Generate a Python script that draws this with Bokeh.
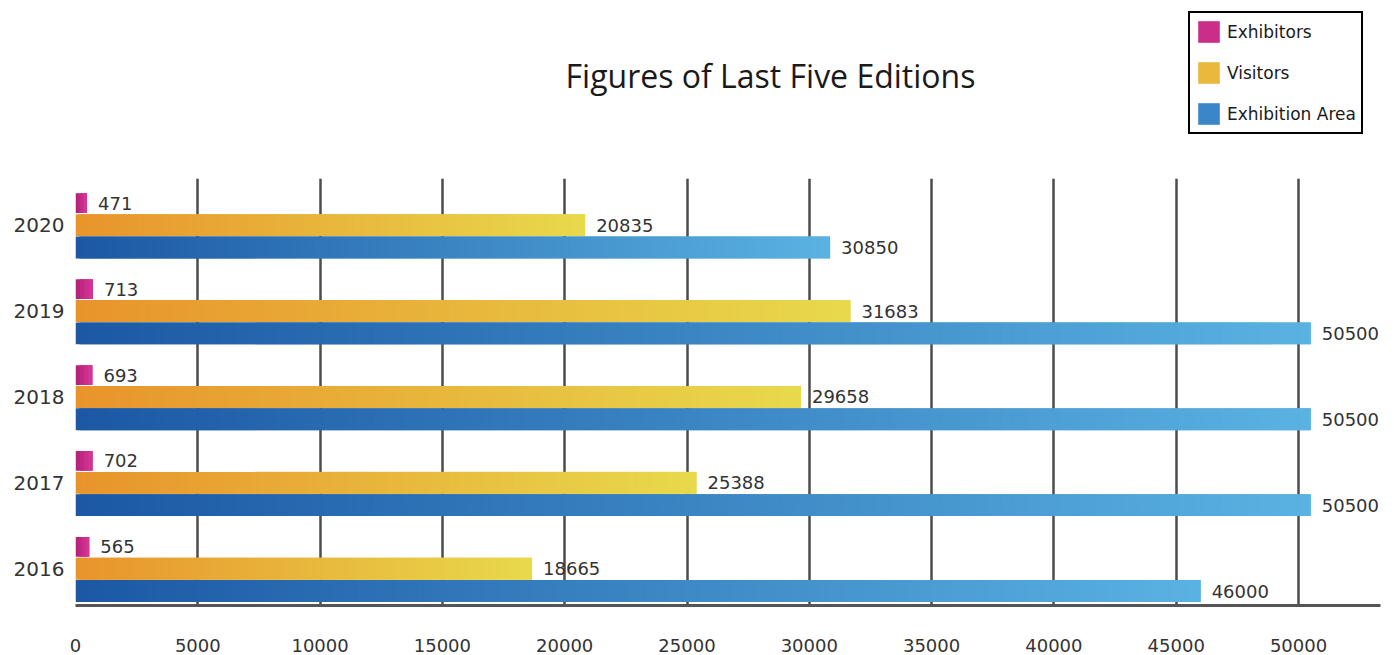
from bokeh.plotting import figure
from bokeh.layouts import column
from bokeh.models import (ColumnDataSource, Range1d, FixedTicker, Legend, LegendItem,
                          LabelSet, Label)
from bokeh.core.properties import value
from bokeh.embed import file_html
from bokeh.resources import INLINE

years = ["2016", "2017", "2018", "2019", "2020"]
exhibitors = [565, 702, 693, 713, 471]
visitors = [18665, 25388, 29658, 31683, 20835]
area = [46000, 50500, 50500, 50500, 30850]
x_ticks = [0, 5000, 10000, 15000, 20000, 25000, 30000, 35000, 40000, 45000, 50000]
series_names = ["Exhibitors", "Visitors", "Exhibition Area"]
title_text = "Figures of Last Five Editions"

# style: (gradient start, gradient end, vertical offset, bar height)
styles = [
    ("#b8227a", "#d43594", 0.255, 0.23),
    ("#e8942c", "#e8d94c", 0.0, 0.255),
    ("#1c58a4", "#5ab2e2", -0.26, 0.255),
]
legend_colors = ["#cb2d8a", "#eab83c", "#3a86c8"]
STEP = 160  # gradient slice width, in data units
NUM_FONT = "DejaVu Sans"


def lerp_hex(c1, c2, t):
    a = [int(c1[i:i + 2], 16) for i in (1, 3, 5)]
    b = [int(c2[i:i + 2], 16) for i in (1, 3, 5)]
    return "#%02x%02x%02x" % tuple(int(round(a[k] + (b[k] - a[k]) * t)) for k in range(3))


W = 1390
TOP_H = 178
MAIN_H = 655 - TOP_H
FRAME_LEFT = 75

p = figure(width=W, height=MAIN_H, output_backend="svg", toolbar_location=None,
           x_range=Range1d(0, 53352), y_range=Range1d(-0.428, 4.543),
           min_border_left=FRAME_LEFT, min_border_right=10, min_border_top=0,
           min_border_bottom=50)
p.outline_line_color = None

for vals, (c1, c2, off, h) in zip([exhibitors, visitors, area], styles):
    lefts, rights, ys, cols = [], [], [], []
    for i, v in enumerate(vals):
        n = max(3, int(round(v / STEP)))
        for k in range(n):
            lefts.append(v * k / n)
            rights.append(v * min(k + 2, n) / n)
            ys.append(i + off)
            cols.append(lerp_hex(c1, c2, k / (n - 1)))
    src = ColumnDataSource(dict(left=lefts, right=rights, y=ys, color=cols))
    p.hbar(y="y", left="left", right="right", height=h, fill_color="color",
           line_color=None, source=src)
    lsrc = ColumnDataSource(dict(x=vals, y=[i + off for i in range(len(vals))],
                                 t=[str(v) for v in vals]))
    p.add_layout(LabelSet(x="x", y="y", text="t", source=lsrc, x_offset=11,
                          text_baseline="middle", text_font=value(NUM_FONT),
                          text_font_size="18px", text_color="#333333"))

p.xaxis.ticker = FixedTicker(ticks=x_ticks)
p.xaxis.axis_line_color = "#555555"
p.xaxis.axis_line_width = 3
p.xaxis.major_tick_line_color = None
p.xaxis.minor_tick_line_color = None
p.xaxis.major_label_standoff = 27
p.xaxis.major_label_text_font = NUM_FONT
p.xaxis.major_label_text_font_size = "18px"
p.xaxis.major_label_text_color = "#333333"

p.yaxis.ticker = FixedTicker(ticks=list(range(len(years))))
p.yaxis.major_label_overrides = {i: y for i, y in enumerate(years)}
p.yaxis.axis_line_color = None
p.yaxis.major_tick_line_color = None
p.yaxis.minor_tick_line_color = None
p.yaxis.major_label_standoff = 5
p.yaxis.major_label_text_font = NUM_FONT
p.yaxis.major_label_text_font_size = "20px"
p.yaxis.major_label_text_color = "#333333"

p.xgrid.ticker = FixedTicker(ticks=x_ticks)
p.xgrid.grid_line_color = "#4d4d4d"
p.xgrid.grid_line_width = 2.5
p.ygrid.grid_line_color = None

# header with title and legend (its frame is aligned with the main frame)
top = figure(width=W, height=TOP_H, output_backend="svg", toolbar_location=None,
             x_range=Range1d(0, 1), y_range=Range1d(0, 1),
             min_border=0, x_axis_type=None, y_axis_type=None)
top.outline_line_color = None
top.grid.grid_line_color = None

items = []
for name, col in zip(series_names, legend_colors):
    swatch = top.hbar(y=[-5], left=[0], right=[1], height=0.1,
                      fill_color=col, line_color=None)
    items.append(LegendItem(label=name, renderers=[swatch]))

legend = Legend(items=items, location=(1188 - FRAME_LEFT, TOP_H - 134), orientation="vertical",
                glyph_width=27, glyph_height=27, spacing=14, padding=5,
                label_standoff=5, label_text_font="DejaVu Sans", label_text_font_size="17px",
                label_text_color="#1a1a1a", border_line_color="black", border_line_width=2.5,
                border_line_alpha=1.0, background_fill_color="white",
                background_fill_alpha=1.0, margin=0)
top.add_layout(legend, "center")

top.add_layout(Label(x=770 - FRAME_LEFT, y=TOP_H - 75, x_units="screen", y_units="screen",
                     text=title_text, text_align="center", text_baseline="middle",
                     text_font="Open Sans", text_font_size="32px",
                     text_color="#1a1a1a"))

layout = column(top, p, spacing=0)
open("out.html", "w").write(file_html(layout, INLINE))
